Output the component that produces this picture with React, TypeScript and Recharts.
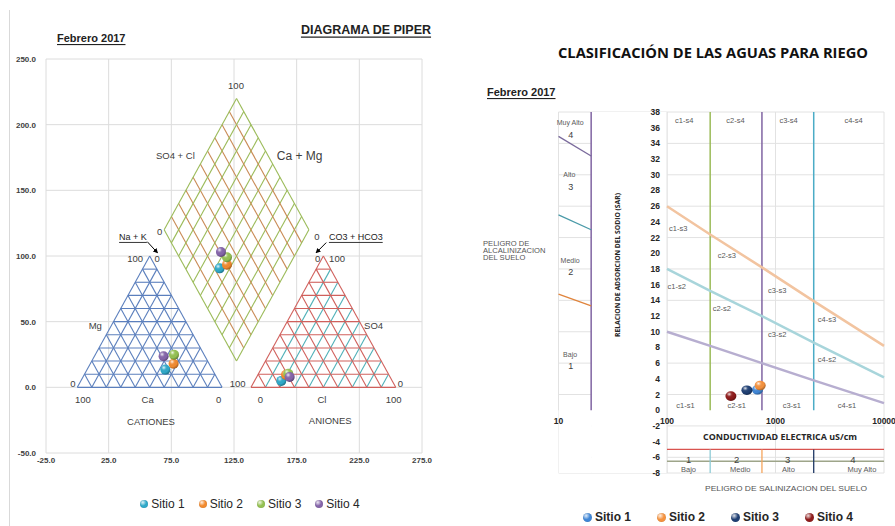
import React from "react";
import {
  CartesianGrid,
  ComposedChart,
  Line,
  ReferenceArea,
  ReferenceLine,
  Scatter,
  XAxis,
  YAxis,
} from "recharts";

const FONT = "'Liberation Sans', Arial, sans-serif";
const TITLE_FONT = "'Open Sans', 'Liberation Sans', sans-serif";

// ---------- Piper diagram data (Febrero 2017)
const sitios = ["Sitio 1", "Sitio 2", "Sitio 3", "Sitio 4"];
const piperColors = ["#2fa9c9", "#f28a2e", "#95c152", "#8565aa"];
const cationX = [70.2, 76.8, 77.1, 68.8];
const cationY = [13.5, 18.0, 24.9, 23.6];
const diamondX = [113.5, 119.4, 119.4, 114.6];
const diamondY = [90.6, 93.4, 99.0, 103.1];
const anionX = [162.7, 166.5, 168.3, 169.4];
const anionY = [4.9, 9.5, 10.4, 7.9];

const piperXTicks = [-25, 25, 75, 125, 175, 225, 275];
const piperYTicks = [-50, 0, 50, 100, 150, 200, 250];

const piperLabels = [
  { x: 126.6, y: 229.7, t: "100" },
  { x: 78.2, y: 176.4, t: "SO4 + Cl" },
  { x: 65.6, y: 118.3, t: "0" },
  { x: 191.2, y: 114.5, t: "0" },
  { x: 46.2, y: 97.8, t: "100" },
  { x: 63.6, y: 97.8, t: "0" },
  { x: 191.7, y: 97.8, t: "0" },
  { x: 207.2, y: 97.8, t: "100" },
  { x: 14.3, y: 47, t: "Mg" },
  { x: 236.4, y: 47, t: "SO4" },
  { x: -3.5, y: 2.8, t: "0" },
  { x: 127.9, y: 2.8, t: "100" },
  { x: 257.7, y: 2.8, t: "0" },
  { x: 4.5, y: -9.4, t: "100" },
  { x: 56.1, y: -9.4, t: "Ca" },
  { x: 112.7, y: -9.4, t: "0" },
  { x: 146, y: -9.4, t: "0" },
  { x: 195.2, y: -9.4, t: "Cl" },
  { x: 252.4, y: -9.4, t: "100" },
  { x: 58.8, y: -25.9, t: "CATIONES" },
  { x: 201.8, y: -25.4, t: "ANIONES" },
];
const piperBigLabels = [{ x: 177.4, y: 176.4, t: "Ca + Mg" }];
const piperUnderLabels = [
  { x: 44.4, y: 114.5, t: "Na + K" },
  { x: 222.2, y: 114.5, t: "CO3 + HCO3" },
];
const piperArrows = [
  [{ x: 55.8, y: 110.9 }, { x: 63.8, y: 102.6 }],
  [{ x: 198.6, y: 110.2 }, { x: 190.7, y: 102.6 }],
];

// ---------- Riego (Wilcox) data
const riegoColors = ["#3f86d6", "#f5923e", "#1f3f73", "#8e1b1b"];
const conductividad = [682, 722, 545, 388];
const sar = [2.6, 3.15, 2.55, 1.8];

const ecTicks = [10, 100, 1000, 10000];
const sarTicks = [-8, -6, -4, -2, 0, 2, 4, 6, 8, 10, 12, 14, 16, 18, 20, 22, 24, 26, 28, 30, 32, 34, 36, 38];

const ecBreaks = [100, 250, 750, 2250, 10000];
const sarS3S4 = [26, 22.4, 18.2, 13.9, 8.2];
const sarS2S3 = [18, 15.2, 12.0, 8.6, 4.2];
const sarS1S2 = [10, 8.2, 6.0, 3.8, 0.9];

const ecLimits = [250, 750, 2250];
const ecLimitColors = ["#9bbb59", "#8064a2", "#4bacc6"];
const salLimitColors = ["#8fcbd6", "#f5a55c", "#1f3864"];

const alcX = [10, 20];
const alcMuyAlto = [34.9, 32.4];
const alcAlto = [24.9, 23.0];
const alcMedio = [14.8, 13.3];

const alcWords = [
  { x: 12.8, y: 36.7, t: "Muy Alto" },
  { x: 12.6, y: 30.0, t: "Alto" },
  { x: 12.8, y: 19.1, t: "Medio" },
  { x: 12.8, y: 7.1, t: "Bajo" },
];
const alcDigits = [
  { x: 13.0, y: 35.1, t: "4" },
  { x: 13.0, y: 28.4, t: "3" },
  { x: 13.0, y: 17.6, t: "2" },
  { x: 13.0, y: 5.6, t: "1" },
];

const zoneLabels = [
  { x: 144, y: 36.9, t: "c1-s4" },
  { x: 428, y: 36.9, t: "c2-s4" },
  { x: 1320, y: 36.9, t: "c3-s4" },
  { x: 5250, y: 36.9, t: "c4-s4" },
  { x: 127, y: 23.1, t: "c1-s3" },
  { x: 356, y: 19.7, t: "c2-s3" },
  { x: 1037, y: 15.3, t: "c3-s3" },
  { x: 2980, y: 11.6, t: "c4-s3" },
  { x: 123, y: 15.8, t: "c1-s2" },
  { x: 320, y: 13.0, t: "c2-s2" },
  { x: 1037, y: 9.7, t: "c3-s2" },
  { x: 2980, y: 6.4, t: "c4-s2" },
  { x: 148, y: 0.6, t: "c1-s1" },
  { x: 439, y: 0.6, t: "c2-s1" },
  { x: 1416, y: 0.6, t: "c3-s1" },
  { x: 4560, y: 0.6, t: "c4-s1" },
];
const salNumbers = [
  { x: 158, y: -6.3, t: "1" },
  { x: 439, y: -6.3, t: "2" },
  { x: 1292, y: -6.3, t: "3" },
  { x: 5165, y: -6.3, t: "4" },
];
const salWords = [
  { x: 158, y: -7.6, t: "Bajo" },
  { x: 474, y: -7.6, t: "Medio" },
  { x: 1314, y: -7.6, t: "Alto" },
  { x: 6270, y: -7.6, t: "Muy Alto" },
];

// ---------- helpers
type P = { x: number; y: number };
type Seg = { p: [P, P]; c: string };
const SIDE = 100 / Math.sin(Math.PI / 3);
const FRACS = [0.1, 0.2, 0.3, 0.4, 0.5, 0.6, 0.7, 0.8, 0.9];
const pt = (x: number, y: number): P => ({ x, y });
const at = (a: P, b: P, t: number): P => ({ x: a.x + (b.x - a.x) * t, y: a.y + (b.y - a.y) * t });

function triangle(a: P, b: P, c: P, edge: string, horiz: string, up: string, down: string): Seg[] {
  const segs: Seg[] = [];
  FRACS.forEach((t) => {
    segs.push({ p: [at(a, c, t), at(b, c, t)], c: horiz });
    segs.push({ p: [at(a, b, t), at(c, b, t)], c: up });
    segs.push({ p: [at(a, b, t), at(a, c, t)], c: down });
  });
  segs.push({ p: [a, b], c: edge }, { p: [b, c], c: edge }, { p: [c, a], c: edge });
  return segs;
}

function rhombus(bot: P, left: P, top: P, right: P): Seg[] {
  const segs: Seg[] = [];
  FRACS.forEach((t) => {
    segs.push({ p: [at(bot, right, t), at(left, top, t)], c: "#c98a55" });
    segs.push({ p: [at(bot, left, t), at(right, top, t)], c: "#9bbb59" });
  });
  const g = "#9bbb59";
  segs.push({ p: [bot, left], c: g }, { p: [left, top], c: g }, { p: [top, right], c: g }, { p: [right, bot], c: g });
  return segs;
}

const piperSegs: Seg[] = [
  ...triangle(pt(0, 0), pt(SIDE, 0), pt(SIDE / 2, 100), "#5b7fbd", "#5b7fbd", "#5b7fbd", "#5b7fbd"),
  ...triangle(pt(1.2 * SIDE, 0), pt(2.2 * SIDE, 0), pt(1.7 * SIDE, 100), "#d0605c", "#d0605c", "#4fb0b8", "#d0605c"),
  ...rhombus(pt(1.1 * SIDE, 20), pt(0.6 * SIDE, 120), pt(1.1 * SIDE, 220), pt(1.6 * SIDE, 120)),
];

const pairs = (xs: number[], ys: number[]) => xs.map((x, i) => ({ x, y: ys[i] }));

type TS = {
  size: number;
  weight?: string | number;
  fill?: string;
  anchor?: "start" | "middle" | "end";
  dx?: number;
  dy?: number;
  underline?: boolean;
  family?: string;
};
const textShape = (s: TS) => (p: any) => (
  <text
    x={p.cx + (s.dx ?? 0)}
    y={p.cy + (s.dy ?? 0)}
    textAnchor={s.anchor ?? "middle"}
    dominantBaseline="central"
    fontSize={s.size}
    fontWeight={s.weight ?? "normal"}
    fill={s.fill ?? "#404040"}
    fontFamily={s.family ?? FONT}
    textDecoration={s.underline ? "underline" : undefined}
  >
    {p.payload.t}
  </text>
);

const sphereShape = (color: string, rx: number, ry: number) => (p: any) => (
  <g>
    <ellipse cx={p.cx} cy={p.cy} rx={rx} ry={ry} fill={color} />
    <ellipse cx={p.cx} cy={p.cy} rx={rx} ry={ry} fill="url(#shine)" />
  </g>
);

const ShineDefs = () => (
  <defs>
    <radialGradient id="shine" cx="35%" cy="30%" r="75%">
      <stop offset="0%" stopColor="#ffffff" stopOpacity={0.85} />
      <stop offset="30%" stopColor="#ffffff" stopOpacity={0.1} />
      <stop offset="65%" stopColor="#000000" stopOpacity={0} />
      <stop offset="100%" stopColor="#000000" stopOpacity={0.35} />
    </radialGradient>
    <marker id="arrowHead" viewBox="0 0 10 10" refX="8" refY="5" markerWidth="5" markerHeight="5" orient="auto">
      <path d="M0,0 L10,5 L0,10 z" fill="#000" />
    </marker>
  </defs>
);

function PiperChart() {
  return (
    <ComposedChart width={440} height={526} margin={{ top: 59, right: 18, bottom: 53, left: 0 }}>
      <ShineDefs />
      <CartesianGrid stroke="#dcdcdc" />
      <XAxis
        type="number"
        dataKey="x"
        domain={[-25, 275]}
        ticks={piperXTicks}
        tickFormatter={(v: number) => v.toFixed(1)}
        axisLine={false}
        tickLine={false}
        tickSize={0}
        tickMargin={4}
        height={20}
        tick={{ fontSize: 8, fontWeight: "bold", fill: "#404040", fontFamily: FONT }}
      />
      <YAxis
        type="number"
        dataKey="y"
        domain={[-50, 250]}
        ticks={piperYTicks}
        tickFormatter={(v: number) => v.toFixed(1)}
        axisLine={false}
        tickLine={false}
        tickSize={0}
        tickMargin={10}
        width={46}
        tick={{ fontSize: 8, fontWeight: "bold", fill: "#404040", fontFamily: FONT }}
      />
      {piperSegs.map((s, i) => (
        <ReferenceLine key={`g${i}`} segment={s.p} stroke={s.c} strokeWidth={1.1} />
      ))}
      {piperArrows.map((a, i) => (
        <ReferenceLine key={`a${i}`} segment={a} stroke="#000" strokeWidth={1} markerEnd="url(#arrowHead)" />
      ))}
      <Scatter data={piperLabels} shape={textShape({ size: 9.5 })} isAnimationActive={false} legendType="none" />
      <Scatter data={piperBigLabels} shape={textShape({ size: 12 })} isAnimationActive={false} legendType="none" />
      <Scatter data={piperUnderLabels} shape={textShape({ size: 9, underline: true, fill: "#222" })} isAnimationActive={false} legendType="none" />
      {sitios.map((name, i) => (
        <Scatter
          key={name}
          name={name}
          data={[
            { x: cationX[i], y: cationY[i] },
            { x: diamondX[i], y: diamondY[i] },
            { x: anionX[i], y: anionY[i] },
          ]}
          shape={sphereShape(piperColors[i], 5, 5)}
          isAnimationActive={false}
        />
      ))}
    </ComposedChart>
  );
}

function RiegoChart() {
  return (
    <ComposedChart width={445} height={526} margin={{ top: 112, right: 11, bottom: 53, left: 108.5 }}>
      <ShineDefs />
      <XAxis type="number" dataKey="x" scale="log" domain={[10, 10000]} ticks={ecTicks} hide />
      <YAxis type="number" dataKey="y" domain={[-8, 38]} ticks={sarTicks} hide />
      <CartesianGrid stroke="#e2e2e2" />
      <ReferenceArea x1={20} x2={100} y1={-8} y2={38} fill="#ffffff" fillOpacity={1} stroke="none" />
      <ReferenceArea x1={10} x2={20} y1={-8} y2={0} fill="#ffffff" fillOpacity={1} stroke="none" />
      <ReferenceLine x={100} stroke="#e2e2e2" />

      {/* peligro de alcalinizacion (left panel) */}
      <ReferenceLine segment={[{ x: 20, y: 0 }, { x: 20, y: 38 }]} stroke="#8064a2" strokeWidth={1.5} />
      <Line data={pairs(alcX, alcMuyAlto)} dataKey="y" stroke="#7a6a9c" strokeWidth={1.3} dot={false} isAnimationActive={false} />
      <Line data={pairs(alcX, alcAlto)} dataKey="y" stroke="#4a9aa8" strokeWidth={1.3} dot={false} isAnimationActive={false} />
      <Line data={pairs(alcX, alcMedio)} dataKey="y" stroke="#e0843c" strokeWidth={1.3} dot={false} isAnimationActive={false} />

      {/* clases de conductividad */}
      {ecLimits.map((x, i) => (
        <ReferenceLine key={`v${x}`} segment={[{ x, y: 0 }, { x, y: 38 }]} stroke={ecLimitColors[i]} strokeWidth={1.5} />
      ))}
      <Line data={pairs(ecBreaks, sarS3S4)} dataKey="y" stroke="#f2c4a0" strokeWidth={2.5} dot={false} isAnimationActive={false} />
      <Line data={pairs(ecBreaks, sarS2S3)} dataKey="y" stroke="#a8d5db" strokeWidth={2.5} dot={false} isAnimationActive={false} />
      <Line data={pairs(ecBreaks, sarS1S2)} dataKey="y" stroke="#b7aed0" strokeWidth={2.5} dot={false} isAnimationActive={false} />

      {/* peligro de salinizacion (bottom band) */}
      <ReferenceLine segment={[{ x: 100, y: -5 }, { x: 10000, y: -5 }]} stroke="#d9534f" strokeWidth={1.3} />
      <ReferenceLine segment={[{ x: 100, y: -6.5 }, { x: 10000, y: -6.5 }]} stroke="#9ea58a" strokeWidth={1.3} />
      {ecLimits.map((x, i) => (
        <ReferenceLine key={`s${x}`} segment={[{ x, y: -8 }, { x, y: -5 }]} stroke={salLimitColors[i]} strokeWidth={1.3} />
      ))}

      <Scatter data={sarTicks.map((v) => ({ x: 100, y: v, t: String(v) }))} shape={textShape({ size: 8.5, weight: "bold", anchor: "end", dx: -7, fill: "#262626" })} isAnimationActive={false} legendType="none" />
      <Scatter data={ecTicks.map((v) => ({ x: v, y: 0, t: String(v) }))} shape={textShape({ size: 8.5, weight: "bold", dy: 11, fill: "#262626" })} isAnimationActive={false} legendType="none" />
      <Scatter data={zoneLabels} shape={textShape({ size: 7.5, fill: "#595959" })} isAnimationActive={false} legendType="none" />
      <Scatter data={alcWords} shape={textShape({ size: 7, fill: "#595959" })} isAnimationActive={false} legendType="none" />
      <Scatter data={alcDigits} shape={textShape({ size: 9, fill: "#404040" })} isAnimationActive={false} legendType="none" />
      <Scatter data={salNumbers} shape={textShape({ size: 9.5, fill: "#404040" })} isAnimationActive={false} legendType="none" />
      <Scatter data={salWords} shape={textShape({ size: 7.5, fill: "#595959" })} isAnimationActive={false} legendType="none" />

      {sitios.map((name, i) => (
        <Scatter
          key={name}
          name={name}
          data={[{ x: conductividad[i], y: sar[i] }]}
          shape={sphereShape(riegoColors[i], 5.5, 4.8)}
          isAnimationActive={false}
        />
      ))}
    </ComposedChart>
  );
}

const legendDot = (color: string, size: number): React.CSSProperties => ({
  width: size,
  height: size,
  borderRadius: "50%",
  marginRight: 3,
  background: `radial-gradient(circle at 35% 30%, rgba(255,255,255,0.85) 0%, rgba(255,255,255,0) 45%), radial-gradient(circle, rgba(0,0,0,0) 55%, rgba(0,0,0,0.3) 100%), ${color}`,
});

function LegendRow({ colors, left, top, width, gap, bold }: { colors: string[]; left: number; top: number; width: number; gap: number; bold: boolean }) {
  return (
    <div style={{ position: "absolute", left, top, width, display: "flex", justifyContent: "center", alignItems: "center", gap }}>
      {sitios.map((name, i) => (
        <div key={name} style={{ display: "flex", alignItems: "center", fontSize: 12, fontWeight: bold ? "bold" : "normal", color: "#262626" }}>
          <div style={legendDot(colors[i], bold ? 9 : 8)} />
          {name}
        </div>
      ))}
    </div>
  );
}

export default function App() {
  return (
    <div style={{ position: "absolute", left: 0, top: 0, width: 895, height: 526, background: "#fff", fontFamily: FONT, overflow: "hidden" }}>
      <div style={{ position: "absolute", left: 9, top: 10, width: 1, height: 516, background: "#d9d9d9" }} />
      <div style={{ position: "absolute", left: 0, top: 0 }}>
        <PiperChart />
      </div>
      <div style={{ position: "absolute", left: 450, top: 0 }}>
        <RiegoChart />
      </div>
      <svg width={895} height={526} style={{ position: "absolute", left: 0, top: 0, pointerEvents: "none" }}>
        <text x={57} y={38} dominantBaseline="central" fontSize={11} fontWeight="bold" textDecoration="underline" fill="#222" fontFamily={FONT}>
          Febrero 2017
        </text>
        <text x={366} y={29.5} textAnchor="middle" dominantBaseline="central" fontSize={12.5} fontWeight="bold" textDecoration="underline" fill="#222" fontFamily={FONT}>
          DIAGRAMA DE PIPER
        </text>
        <text x={713} y={52.5} textAnchor="middle" dominantBaseline="central" fontSize={13.5} fontWeight="bold" fill="#111" fontFamily={TITLE_FONT} textLength={310} lengthAdjust="spacingAndGlyphs">
          CLASIFICACIÓN DE LAS AGUAS PARA RIEGO
        </text>
        <text x={487} y={92} dominantBaseline="central" fontSize={11} fontWeight="bold" textDecoration="underline" fill="#222" fontFamily={FONT}>
          Febrero 2017
        </text>
        {["PELIGRO DE", "ALCALINIZACION", "DEL SUELO"].map((t, i) => (
          <text key={t} x={483} y={243.3 + i * 7.3} dominantBaseline="central" fontSize={7.6} fill="#555" fontFamily={FONT}>
            {t}
          </text>
        ))}
        <text x={617} y={265} transform="rotate(-90 617 265)" textAnchor="middle" dominantBaseline="central" fontSize={7.5} fontWeight="bold" fill="#262626" fontFamily={TITLE_FONT} textLength={144} lengthAdjust="spacingAndGlyphs">
          RELACION DE ADSORCION DEL SODIO (SAR)
        </text>
        <text x={780} y={436.7} textAnchor="middle" dominantBaseline="central" fontSize={8.5} fontWeight="bold" fill="#262626" fontFamily={TITLE_FONT} textLength={154} lengthAdjust="spacingAndGlyphs">
          CONDUCTIVIDAD ELECTRICA uS/cm
        </text>
        <text x={786} y={488.3} textAnchor="middle" dominantBaseline="central" fontSize={8} fill="#555" fontFamily={FONT} textLength={162} lengthAdjust="spacingAndGlyphs">
          PELIGRO DE SALINIZACION DEL SUELO
        </text>
      </svg>
      <LegendRow colors={piperColors} left={30} top={497} width={440} gap={14} bold={false} />
      <LegendRow colors={riegoColors} left={498} top={510} width={440} gap={26} bold={true} />
    </div>
  );
}
